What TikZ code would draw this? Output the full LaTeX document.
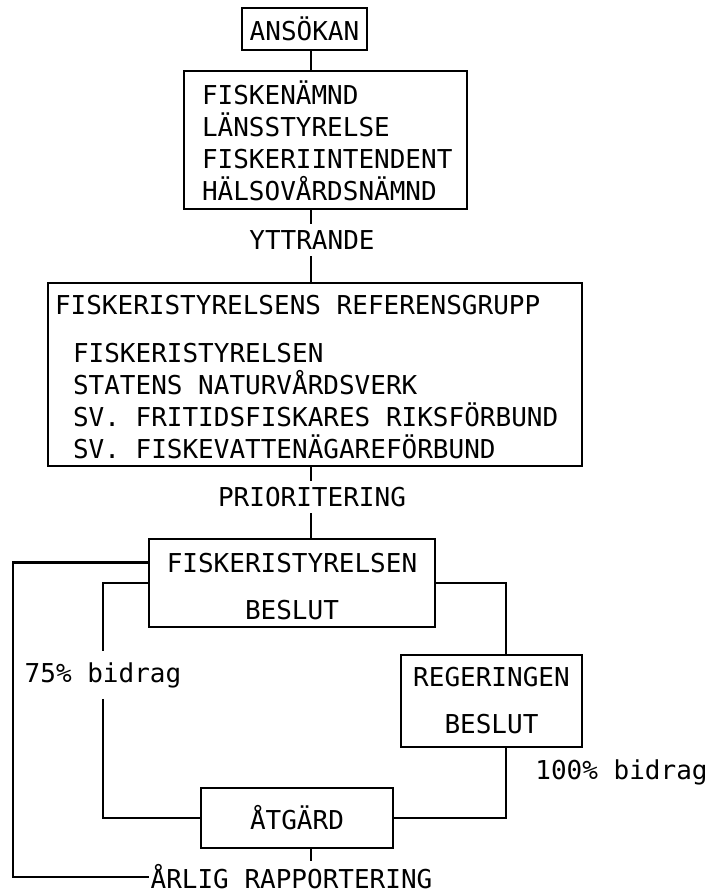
\documentclass[tikz,border=0pt]{standalone}
\usepackage{fontspec}
\newfontfamily\plotfont[WordSpace={1,0,0}]{DejaVu Sans Mono}
\newcommand{\monosp}{\spaceskip=0.602em\relax}

\begin{document}
\begin{tikzpicture}[x=0.5pt,y=-0.5pt,line width=1.3pt,
                    every node/.style={font=\plotfont\fontsize{13}{16}\selectfont, inner sep=0pt},
                    box/.style={draw, line width=1.3pt, align=center},
                    lab/.style={minimum height=15pt}]
  \useasboundingbox (0,0) rectangle (711,895);
  % guide lines for the vertical connectors
  \coordinate (spine) at (311,0);
  \coordinate (rline) at (506,0);
  \coordinate (loop) at (13,700);
  % application and review chain
  \node[box, minimum width=62.5pt, minimum height=21pt] (ansokan) at (304.5,29) {ANSÖKAN};
  \node[box, minimum width=141.5pt, minimum height=69pt, inner xsep=9pt, text width=123.5pt, align=left]
       (organ) at (325.5,140) {\rule{0pt}{13pt}FISKENÄMND\\LÄNSSTYRELSE\\FISKERIINTENDENT\\HÄLSOVÅRDSNÄMND};
  \node[lab] (yttr) at (312,240) {YTTRANDE};
  \node[box, minimum width=267pt, minimum height=91.5pt, inner xsep=3.5pt, text width=260pt, align=left]
       (refgr) at (315,374.5) {\monosp\rule{0pt}{12pt}FISKERISTYRELSENS REFERENSGRUPP\\[8pt]
         \hspace*{9pt}FISKERISTYRELSEN\\
         \hspace*{9pt}STATENS NATURVÅRDSVERK\\
         \hspace*{9pt}SV. FRITIDSFISKARES RIKSFÖRBUND\\
         \hspace*{9pt}SV. FISKEVATTENÄGAREFÖRBUND};
  \node[lab] (prio) at (312,497) {PRIORITERING};
  % decisions
  \node[box, minimum width=143pt, minimum height=44pt] (fstyr) at (292,583) {\rule{0pt}{13pt}FISKERISTYRELSEN\\[7.5pt]BESLUT};
  \node[box, minimum width=90.5pt, minimum height=46pt] (reger) at (491.5,701) {REGERINGEN\\[7.5pt]BESLUT};
  \node[minimum height=22.5pt] (lbid) at (103,675) {75\% bidrag};
  \node (rbid) at (621.5,772) {100\% bidrag};
  \node[box, minimum width=96pt, minimum height=30pt] (atgard) at (297,818) {ÅTGÄRD};
  \node[lab] (arlig) at (291.5,877) {ÅRLIG RAPPORTERING};
  % connectors
  \draw (ansokan.south -| spine) -- (organ.north -| spine);
  \draw (organ.south -| spine) -- (yttr.north -| spine);
  \draw (yttr.south -| spine) -- (refgr.north -| spine);
  \draw (refgr.south -| spine) -- (prio.north -| spine);
  \draw (prio.south -| spine) -- (fstyr.north -| spine);
  \draw ([yshift=-12.5pt]fstyr.north west) -| (loop) |- (arlig.west);
  \draw (fstyr.west) -| (lbid.north);
  \draw (lbid.south) |- (atgard.west);
  \draw (fstyr.east) -| (reger.north -| rline);
  \draw (reger.south -| rline) |- (atgard.east);
  \draw (atgard.south -| spine) -- (arlig.north -| spine);
\end{tikzpicture}
\end{document}
